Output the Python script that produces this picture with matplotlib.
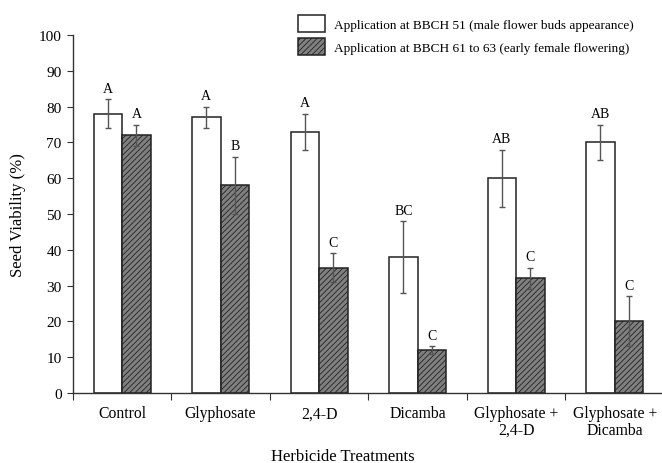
"""Seed viability by herbicide treatment and application timing."""
import matplotlib
matplotlib.use("Agg")
import matplotlib.pyplot as plt
import numpy as np

tratamentos = ["Control", "Glyphosate", "2,4-D", "Dicamba",
               "Glyphosate +\n2,4-D", "Glyphosate +\nDicamba"]
serie_bbch51 = [78, 77, 73, 38, 60, 70]
erro_bbch51 = [4, 3, 5, 10, 8, 5]
letras_bbch51 = ["A", "A", "A", "BC", "AB", "AB"]
serie_bbch61 = [72, 58, 35, 12, 32, 20]
erro_bbch61 = [3, 8, 4, 1, 3, 7]
letras_bbch61 = ["A", "B", "C", "C", "C", "C"]
legendas = ["Application at BBCH 51 (male flower buds appearance)",
            "Application at BBCH 61 to 63 (early female flowering)"]

plt.rcParams["font.family"] = ["Liberation Serif", "DejaVu Serif"]
plt.rcParams["hatch.linewidth"] = 0.6
plt.rcParams["hatch.color"] = "#222222"

fig = plt.figure(figsize=(6.62, 4.64), dpi=100)
ax = fig.add_axes([0.110, 0.1509, 0.893, 0.7715])

x = np.arange(len(tratamentos))
larg = 0.29
cor_err = "#555555"

b1 = ax.bar(x - larg / 2, serie_bbch51, larg, color="white", edgecolor="#222222",
            linewidth=1.1, label=legendas[0], zorder=2)
b2 = ax.bar(x + larg / 2, serie_bbch61, larg, color="#808080", edgecolor="#222222",
            linewidth=1.1, hatch="//////", label=legendas[1], zorder=2)
ax.errorbar(x - larg / 2, serie_bbch51, yerr=erro_bbch51, fmt="none",
            ecolor=cor_err, elinewidth=1.0, capsize=2.5, capthick=1.0, zorder=3)
ax.errorbar(x + larg / 2, serie_bbch61, yerr=erro_bbch61, fmt="none",
            ecolor=cor_err, elinewidth=1.0, capsize=2.5, capthick=1.0, zorder=3)

for xi, v, e, t in zip(x - larg / 2, serie_bbch51, erro_bbch51, letras_bbch51):
    ax.text(xi, v + e + 1.3, t, ha="center", va="bottom", fontsize=10)
for xi, v, e, t in zip(x + larg / 2, serie_bbch61, erro_bbch61, letras_bbch61):
    ax.text(xi, v + e + 1.3, t, ha="center", va="bottom", fontsize=10)

ax.set_xlim(-0.5, len(tratamentos) - 0.5)
ax.set_ylim(0, 100)
ax.set_yticks(np.arange(0, 101, 10))
ax.set_xticks(np.arange(len(tratamentos) + 1) - 0.5)
ax.set_xticklabels([])
ax.set_xticks(x, minor=True)
ax.set_xticklabels(tratamentos, minor=True, fontsize=11.3, linespacing=1.05)
ax.tick_params(axis="x", which="minor", length=0, pad=9)
ax.tick_params(axis="x", which="major", length=5, direction="out", color="#333333")
ax.tick_params(axis="y", length=4, direction="out", labelsize=11, color="#333333", pad=4)

for lado in ["top", "right"]:
    ax.spines[lado].set_visible(False)
for lado in ["left", "bottom"]:
    ax.spines[lado].set_color("#333333")
    ax.spines[lado].set_linewidth(1.0)

ax.set_ylabel("Seed Viability (%)", fontsize=12, labelpad=9)
ax.set_xlabel("Herbicide Treatments", fontsize=12)
ax.xaxis.set_label_coords(0.456, -0.176)
ax.xaxis.label.set_va("center")

ax.legend(handles=[b1, b2], loc="upper left", bbox_to_anchor=(0.372, 1.070),
          frameon=False, fontsize=9.5, handlelength=2.05, handleheight=1.6,
          handletextpad=0.7, labelspacing=0.43, borderaxespad=0)

fig.savefig("out.png", dpi=100)
